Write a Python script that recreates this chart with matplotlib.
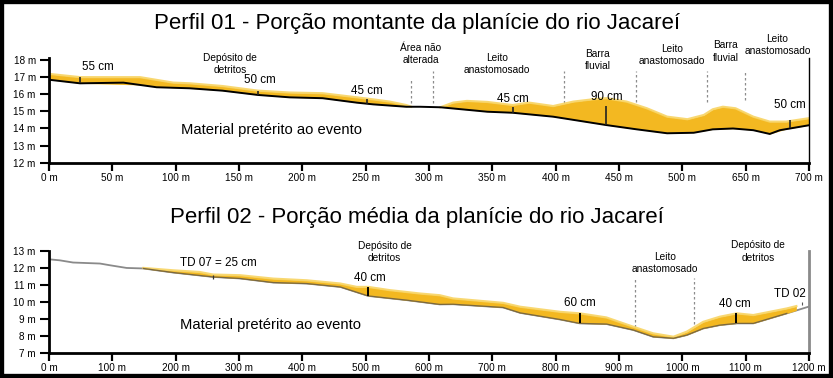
import matplotlib.pyplot as plt
import numpy as np
from matplotlib.patches import Rectangle

plt.rcParams['font.family'] = ['Liberation Sans', 'DejaVu Sans']

# --- Perfil 01 data (x in label positions, z in m) ---
p1_ticks = np.arange(0, 601, 50)
p1_tick_labels = ['0 m', '50 m', '100 m', '150 m', '200 m', '250 m', '300 m',
                  '350 m', '400 m', '450 m', '500 m', '650 m', '700 m']
p1_ground_x = [0, 24.5, 58.7, 85, 111, 137, 165, 190, 216, 243, 256, 282, 293, 309,
               346, 366, 398, 440, 464, 488, 509, 524, 540, 556, 569, 577, 585, 600]
p1_ground_z = [16.85, 16.64, 16.68, 16.41, 16.35, 16.21, 15.96, 15.82, 15.77, 15.51,
               15.41, 15.27, 15.27, 15.24, 14.98, 14.92, 14.69, 14.2, 13.95, 13.72,
               13.75, 13.95, 14.0, 13.9, 13.68, 13.9, 14.0, 14.19]
p1_dep1_x = [0, 24.5, 71.8, 98, 111, 137, 165, 190, 216, 243, 256, 269, 282, 286]
p1_dep1_top = [17.19, 17.0, 17.0, 16.68, 16.64, 16.48, 16.21, 16.1, 16.06, 15.82,
               15.7, 15.57, 15.37, 15.27]
p1_dep2_x = [309, 319, 330, 346, 366, 379, 398, 414, 430, 440, 456, 472, 488, 504,
             517, 524, 532, 542, 556, 569, 582, 600]
p1_dep2_top = [15.24, 15.51, 15.61, 15.55, 15.37, 15.51, 15.31, 15.57, 15.71, 15.77,
               15.57, 15.18, 14.69, 14.54, 14.79, 15.12, 15.27, 15.18, 14.69, 14.4,
               14.4, 14.6]
p1_mark_x = [24.5, 165, 251, 366.6, 440, 585]
p1_mark_top = [17.0, 16.21, 15.7, 15.27, 15.33, 14.48]
p1_mark_labels = ['55 cm', '50 cm', '45 cm', '45 cm', '90 cm', '50 cm']
p1_div_x = [286, 303, 406.6, 463.4, 519.7, 549.5]
p1_div_top = [16.84, 17.38, 17.38, 17.38, 17.38, 17.38]
p1_div_bottom = [15.49, 15.49, 15.49, 15.57, 15.57, 15.67]
p1_zones = ['Depósito de\ndetritos', 'Área não\nalterada', 'Leito\nanastomosado',
            'Barra\nfluvial', 'Leito\nanastomosado', 'Barra\nfluvial',
            'Leito\nanastomosado']

# --- Perfil 02 data ---
p2_ticks = np.arange(0, 1201, 100)
p2_tick_labels = [f'{v} m' for v in p2_ticks]
p2_ground_x = [0, 17, 38, 80.5, 96, 122.6, 149, 196, 259, 301.6, 354, 407, 460, 504,
               565, 586, 617, 638, 717, 744, 807, 838, 880.5, 922.6, 954, 986, 1007,
               1033, 1059.5, 1086, 1112, 1138, 1165, 1199]
p2_ground_z = [12.51, 12.45, 12.32, 12.26, 12.16, 12.0, 11.97, 11.73, 11.47, 11.38,
               11.14, 11.08, 10.88, 10.35, 10.1, 10.0, 9.85, 9.86, 9.67, 9.35, 8.96,
               8.73, 8.69, 8.34, 7.94, 7.85, 8.04, 8.43, 8.63, 8.73, 8.73, 9.02, 9.32,
               9.71]
p2_dep_x = [149, 196, 238, 259, 301.6, 354, 407, 460, 486, 504, 538, 586, 617, 638,
            717, 744, 807, 838, 880, 922.6, 954, 986, 1007, 1033, 1059, 1086, 1112,
            1138, 1165, 1180]
p2_dep_top = [12.0, 11.86, 11.76, 11.61, 11.57, 11.37, 11.27, 11.08, 10.88, 10.88,
              10.69, 10.49, 10.39, 10.2, 9.94, 9.71, 9.41, 9.32, 9.08, 8.53, 8.14,
              7.94, 8.24, 8.82, 9.12, 9.32, 9.22, 9.41, 9.61, 9.75]
p2_mark_x = [259.5, 504, 838, 1085, 1188.5]
p2_mark_top = [11.61, 10.88, 9.32, 9.32, 10.0]
p2_div_x = [925, 1018]
p2_div_top = [11.4, 11.4]
p2_div_bottom = [8.5, 8.7]

DEP = '#F3B821'
DEP_EDGE = '#F8D463'


def style_axes(ax, ticks, labels, ylim, right_color, right_lw):
    ax.set_xlim(ticks[0], ticks[-1])
    ax.set_ylim(*ylim)
    ax.set_xticks(ticks)
    ax.set_xticklabels(labels)
    ax.set_yticks(np.arange(int(ylim[0]), int(ylim[0]) + 7))
    ax.set_yticklabels([f'{v} m' for v in range(int(ylim[0]), int(ylim[0]) + 7)])
    ax.spines['top'].set_visible(False)
    ax.spines['left'].set_linewidth(2)
    ax.spines['bottom'].set_linewidth(2)
    ax.spines['right'].set_color(right_color)
    ax.spines['right'].set_linewidth(right_lw)
    ax.tick_params(axis='x', length=5.5, width=1.6, pad=2, labelsize=7.2)
    ax.tick_params(axis='y', length=6.5, width=1.5, pad=3, labelsize=7.2)
    ax.patch.set_alpha(0)


def deposit(ax, gx, gz, dx, dtop):
    base = np.interp(dx, gx, gz)
    ax.fill_between(dx, base, dtop, color=DEP, lw=0, zorder=2)
    ax.plot(dx, dtop, color=DEP_EDGE, lw=1.6, alpha=0.9, zorder=2)


fig = plt.figure(figsize=(8.33, 3.78), dpi=100)

# ---------- Perfil 01 ----------
ax1 = fig.add_axes([49 / 833, 1 - 162.7 / 378, 760 / 833, 104.7 / 378])
style_axes(ax1, p1_ticks, p1_tick_labels, (12, 18.12), 'black', 1)
deposit(ax1, p1_ground_x, p1_ground_z, p1_dep1_x, p1_dep1_top)
deposit(ax1, p1_ground_x, p1_ground_z, p1_dep2_x, p1_dep2_top)
ax1.plot(p1_ground_x, p1_ground_z, color='black', lw=1.4, zorder=3)
ax1.vlines(p1_mark_x, np.interp(p1_mark_x, p1_ground_x, p1_ground_z), p1_mark_top,
           color='#222222', lw=1.2, zorder=4)
ax1.vlines(p1_div_x, p1_div_bottom, p1_div_top, color='#8c8c8c', lw=0.9,
           linestyles=(0, (2, 2)), zorder=1)
for (x, y), t in zip([(38.7, 17.6), (166.6, 16.84), (251, 16.2), (366, 15.72),
                      (440, 15.84), (585, 15.37)], p1_mark_labels):
    ax1.text(x, y, t, fontsize=8.4, ha='center', va='center')
for (x, y), t in zip([(143, 17.77), (293.7, 18.36), (353.7, 17.77), (433, 18.0),
                      (492, 18.3), (534, 18.5), (575, 18.88)], p1_zones):
    ax1.text(x, y, t, fontsize=7.3, ha='center', va='center', linespacing=1.3,
             clip_on=False)
ax1.text(176, 13.9, 'Material pretérito ao evento', fontsize=10.6, ha='center',
         va='center')
fig.text(0.5, 1 - 23 / 378, 'Perfil 01 - Porção montante da planície do rio Jacareí',
         fontsize=16, ha='center', va='center')

# ---------- Perfil 02 ----------
ax2 = fig.add_axes([49 / 833, 1 - 352.7 / 378, 760 / 833, 101.7 / 378])
style_axes(ax2, p2_ticks, p2_tick_labels, (7, 13), '#8a8a8a', 2)
ax2.plot(p2_ground_x, p2_ground_z, color='#8a8a8a', lw=1.3, zorder=1)
deposit(ax2, p2_ground_x, p2_ground_z, p2_dep_x, p2_dep_top)
gx = np.array(p2_ground_x)
under = (gx >= p2_dep_x[0]) & (gx <= p2_dep_x[-1])
ax2.plot(gx[under], np.array(p2_ground_z)[under], color='#7a6840', lw=0.9, zorder=3)
ax2.vlines(p2_mark_x[1:4], np.interp(p2_mark_x[1:4], p2_ground_x, p2_ground_z),
           p2_mark_top[1:4], color='black', lw=1.4, zorder=4)
ax2.vlines(p2_mark_x[0], 11.37, p2_mark_top[0], color='#333333', lw=0.9, zorder=4)
ax2.vlines(p2_mark_x[4], 9.82, p2_mark_top[4], color='#555555', lw=0.8, zorder=4)
ax2.vlines(p2_div_x, p2_div_bottom, p2_div_top, color='#8c8c8c', lw=0.9,
           linestyles=(0, (2, 2)), zorder=1)
for x, y, t in [(267, 12.3, 'TD 07 = 25 cm'), (507, 11.38, '40 cm'),
                (838, 9.94, '60 cm'), (1083, 9.86, '40 cm'), (1170, 10.45, 'TD 02')]:
    ax2.text(x, y, t, fontsize=8.4, ha='center', va='center')
for x, y, t in [(530, 12.95, 'Depósito de\ndetritos'), (972, 12.3, 'Leito\nanastomosado'),
                (1119.6, 12.98, 'Depósito de\ndetritos')]:
    ax2.text(x, y, t, fontsize=7.3, ha='center', va='center', linespacing=1.3,
             clip_on=False)
ax2.text(349, 8.63, 'Material pretérito ao evento', fontsize=10.6, ha='center',
         va='center')
fig.text(0.5, 1 - 217 / 378, 'Perfil 02 - Porção média da planície do rio Jacareí',
         fontsize=16, ha='center', va='center')

# black frame around the whole figure
fig.patches.append(Rectangle((0, 0), 1, 1, transform=fig.transFigure, fill=False,
                             edgecolor='black', lw=6, zorder=10))

fig.savefig('out.png', dpi=100)
